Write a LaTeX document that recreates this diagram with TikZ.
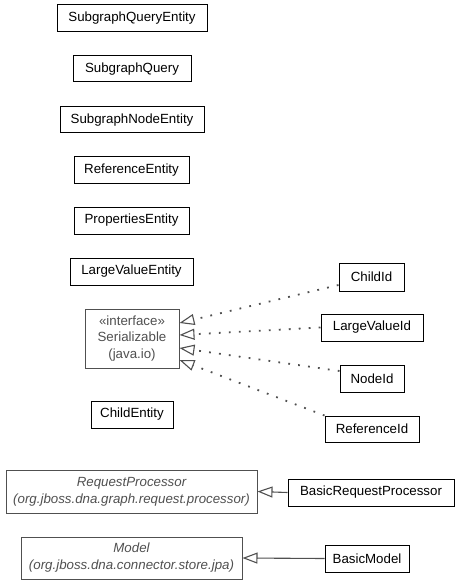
\documentclass[tikz,border=0pt]{standalone}
\usepackage{fontspec}
\setmainfont{Liberation Sans}
\usetikzlibrary{arrows.meta}
\definecolor{iface}{HTML}{505050}
\tikzset{
  cls/.style={draw=black, line width=1pt, fill=white, inner sep=0pt, align=center,
    font=\fontsize{13.3}{16}\selectfont, text=black},
  ext/.style={draw=iface, line width=1pt, fill=white, inner sep=0pt, align=center,
    font=\fontsize{13.3}{16.5}\selectfont, text=iface},
  real/.style={draw=iface, line width=1.8pt, dash pattern=on 1.8pt off 8.2pt,
    -{Triangle[open, length=15pt, width=11pt, line width=1.1pt, fill=white]}},
  gen/.style={draw=iface, line width=1.1pt,
    -{Triangle[open, length=15pt, width=11pt, line width=1.1pt, fill=white]}},
}
\begin{document}
\begin{tikzpicture}[x=1pt, y=-1pt]
\useasboundingbox (0,0) rectangle (461,585);
\node[cls, minimum width=150pt, minimum height=27pt] (sqe) at (132,18.5) {SubgraphQueryEntity};
\node[cls, minimum width=118pt, minimum height=26pt] (sq) at (132,69) {SubgraphQuery};
\node[cls, minimum width=144pt, minimum height=26pt] (sne) at (132,120) {SubgraphNodeEntity};
\node[cls, minimum width=115pt, minimum height=27pt] (re) at (131.5,170.5) {ReferenceEntity};
\node[cls, minimum width=115pt, minimum height=27pt] (pe) at (131.5,220.5) {PropertiesEntity};
\node[cls, minimum width=123pt, minimum height=27pt] (lve) at (131.5,271.5) {LargeValueEntity};
\node[ext, minimum width=94pt, minimum height=59pt] (ser) at (132,338.5) {«interface»\\Serializable\\(java.io)};
\node[cls, minimum width=82pt, minimum height=27pt] (ce) at (132,414.5) {ChildEntity};
\node[cls, minimum width=65pt, minimum height=28pt] (cid) at (371.5,277) {ChildId};
\node[cls, minimum width=102pt, minimum height=27pt] (lvid) at (372,327.5) {LargeValueId};
\node[cls, minimum width=64pt, minimum height=27pt] (nid) at (372,378.5) {NodeId};
\node[cls, minimum width=94pt, minimum height=26pt] (rid) at (372,429) {ReferenceId};
\node[ext, minimum width=251pt, minimum height=43pt, font=\itshape\fontsize{13.3}{17}\selectfont] (rp) at (131.5,491.5) {RequestProcessor\\(org.jboss.dna.graph.request.processor)};
\node[cls, minimum width=166pt, minimum height=27pt] (brp) at (371,492.5) {BasicRequestProcessor};
\node[ext, minimum width=221pt, minimum height=42pt, font=\itshape\fontsize{13.3}{17}\selectfont] (mod) at (131.5,558) {Model\\(org.jboss.dna.connector.store.jpa)};
\node[cls, minimum width=84pt, minimum height=27pt] (bm) at (367,558.5) {BasicModel};
\draw[real] ([yshift=-8pt]cid.west) -- ([yshift=15.5pt]ser.east);
\draw[real] (lvid.west) -- ([yshift=3.5pt]ser.east);
\draw[real] ([yshift=7.5pt]nid.west) -- ([yshift=-9.5pt]ser.east);
\draw[real] (rid.north west) -- ([yshift=-21.5pt]ser.east);
\draw[gen] (brp.west) -- (rp.east);
\draw[gen] (bm.west) -- (mod.east);
\end{tikzpicture}
\end{document}
